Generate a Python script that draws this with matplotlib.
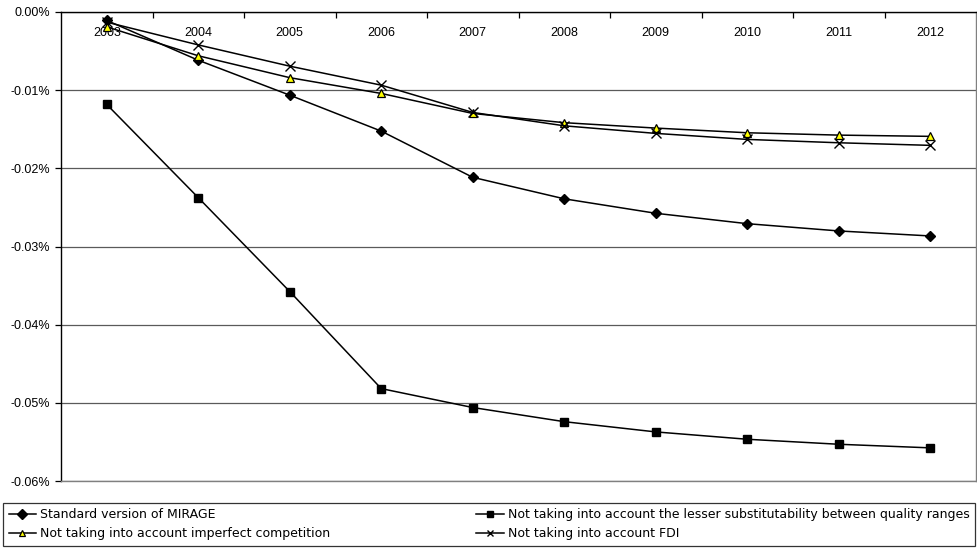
import numpy as np
import matplotlib
matplotlib.use("Agg")
import matplotlib.pyplot as plt
from matplotlib.ticker import FuncFormatter

plt.rcParams["font.family"] = ["Liberation Sans", "DejaVu Sans"]

years = ["2003", "2004", "2005", "2006", "2007", "2008", "2009", "2010", "2011", "2012"]

# écart en % par rapport à la référence
standard = [-0.00108, -0.00617, -0.01064, -0.01524, -0.02115, -0.02390, -0.02575, -0.02708, -0.02801, -0.02865]
no_quality = [-0.01183, -0.02375, -0.03576, -0.04818, -0.05060, -0.05241, -0.05372, -0.05466, -0.05530, -0.05576]
no_imperfect = [-0.00190, -0.00560, -0.00840, -0.01042, -0.01298, -0.01416, -0.01485, -0.01545, -0.01575, -0.01591]
no_fdi = [-0.00130, -0.00421, -0.00693, -0.00936, -0.01285, -0.01456, -0.01553, -0.01630, -0.01673, -0.01706]

LABELS = ["Standard version of MIRAGE",
          "Not taking into account the lesser substitutability between quality ranges",
          "Not taking into account imperfect competition",
          "Not taking into account FDI"]

fig = plt.figure(figsize=(9.78, 5.49), dpi=100)
ax = fig.add_axes([61 / 978, 1 - 481 / 549, 915 / 978, 469 / 549])

x = np.arange(len(years))
l1, = ax.plot(x, standard, color="black", lw=1.1, marker="D", ms=5,
              mfc="black", mec="black")
l2, = ax.plot(x, no_quality, color="black", lw=1.1, marker="s", ms=6,
              mfc="black", mec="black")
l3, = ax.plot(x, no_imperfect, color="black", lw=1.1, marker="^", ms=5.5,
              mfc="#ffff00", mec="black", mew=0.9)
l4, = ax.plot(x, no_fdi, color="black", lw=1.1, marker="x", ms=6.5, mew=1.0)

ax.set_xlim(-0.5, len(years) - 0.5)
ax.set_ylim(-0.06, 0.0)
ax.set_yticks(np.arange(-0.06, 0.001, 0.01))
ax.yaxis.set_major_formatter(FuncFormatter(lambda v, _: f"{v:.2f}%" if abs(v) > 1e-9 else "0.00%"))
ax.grid(axis="y", color="#5a5a5a", lw=0.9)
ax.set_axisbelow(True)
ax.tick_params(axis="y", direction="out", length=4, width=0.9, labelsize=9, pad=4)

# axe des catégories en haut, libellés sous la ligne
ax.xaxis.tick_top()
ax.set_xticks(x)
ax.set_xticklabels(years)
ax.set_xticks(np.arange(0.5, len(years) - 0.5, 1.0), minor=True)
ax.tick_params(axis="x", which="major", length=0, labelsize=9, pad=-19.5)
ax.tick_params(axis="x", which="minor", direction="in", length=4, width=0.9)

for side in ["top", "left"]:
    ax.spines[side].set_color("black")
    ax.spines[side].set_linewidth(1.0)
for side in ["right", "bottom"]:
    ax.spines[side].set_color("#808080")
    ax.spines[side].set_linewidth(1.0)

leg = fig.legend([l1, l3, l2, l4], [LABELS[0], LABELS[2], LABELS[1], LABELS[3]],
                 ncol=2, mode="expand", loc="lower left",
                 bbox_to_anchor=(3 / 978, 1 - 546 / 549, 972 / 978, 49 / 549),
                 borderaxespad=0, frameon=True, fancybox=False, shadow=False,
                 handlelength=2.2, handletextpad=0.3, labelspacing=0.5,
                 borderpad=0.45, prop={"size": 9,
                                       "family": ["Liberation Sans Narrow", "DejaVu Sans Condensed", "DejaVu Sans"]})
leg.get_frame().set_edgecolor("black")
leg.get_frame().set_linewidth(0.9)
for h in leg.legend_handles:
    h.set_markersize(5)

fig.savefig("out.png", dpi=100)
